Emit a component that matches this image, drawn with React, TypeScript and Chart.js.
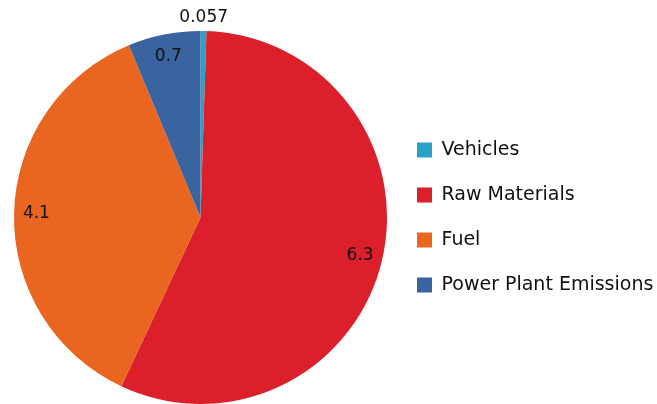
import React, { useEffect, useRef } from "react";
import { Chart, registerables } from "chart.js";

Chart.register(...registerables);

const categories = ["Vehicles", "Raw Materials", "Fuel", "Power Plant Emissions"];
const values = [0.057, 6.3, 4.1, 0.7];
const valueLabels = ["0.057", "6.3", "4.1", "0.7"];
const colors = ["#2AA2C5", "#DB1F2B", "#EA6520", "#3A64A0"];

const FONT = "'DejaVu Sans', sans-serif";

const sliceLabels = {
  id: "sliceLabels",
  afterDatasetsDraw(chart: any) {
    const ctx = chart.ctx;
    const meta = chart.getDatasetMeta(0);
    ctx.save();
    ctx.font = `17px ${FONT}`;
    ctx.fillStyle = "#111111";
    ctx.textAlign = "center";
    ctx.textBaseline = "middle";
    meta.data.forEach((arc: any, i: number) => {
      const { x, y, startAngle, endAngle, outerRadius } = arc.getProps(
        ["x", "y", "startAngle", "endAngle", "outerRadius"],
        true
      );
      const mid = (startAngle + endAngle) / 2;
      const span = endAngle - startAngle;
      const r = span < 0.15 ? outerRadius + 13 : outerRadius * 0.88;
      ctx.fillText(valueLabels[i], x + Math.cos(mid) * r, y + Math.sin(mid) * r);
    });
    ctx.restore();
  },
};

export default function App() {
  const ref = useRef<HTMLCanvasElement>(null);
  useEffect(() => {
    if (!ref.current) return;
    const chart = new Chart(ref.current, {
      type: "pie",
      data: {
        labels: categories,
        datasets: [
          {
            data: values,
            backgroundColor: colors,
            borderWidth: 0,
          },
        ],
      },
      options: {
        responsive: false,
        animation: false,
        layout: { padding: { top: 31, bottom: 0, left: 10, right: 0 } },
        plugins: {
          tooltip: { enabled: false },
          legend: {
            position: "right",
            maxWidth: 266,
            labels: {
              boxWidth: 15,
              boxHeight: 15,
              padding: 26,
              color: "#111111",
              font: { family: FONT, size: 19 },
            },
          },
        },
      },
      plugins: [sliceLabels],
    });
    return () => chart.destroy();
  }, []);
  return (
    <div style={{ position: "absolute", left: 0, top: 0, width: 657, height: 404, background: "#fff" }}>
      <canvas ref={ref} width={657} height={404} />
    </div>
  );
}
